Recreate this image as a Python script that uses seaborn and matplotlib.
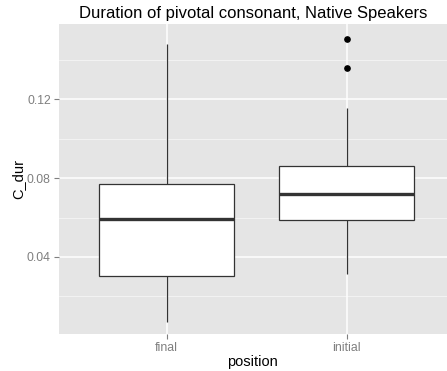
import numpy as np
import pandas as pd
import matplotlib
matplotlib.use("Agg")
import matplotlib.pyplot as plt
import seaborn as sns

# ---- data ----
categories = ["final", "initial"]
lower_whisker = [0.0072, 0.0315]
q1 = [0.0302, 0.0587]
median = [0.0592, 0.0721]
q3 = [0.0771, 0.0859]
upper_whisker = [0.1477, 0.1153]
outliers = [[], [0.1359, 0.1504]]

y_ticks = [0.04, 0.08, 0.12]
y_tick_labels = ["0.04", "0.08", "0.12"]
minor_ticks = [0.02, 0.06, 0.10, 0.14]

# Build samples whose quartiles reproduce the summary statistics
rows = []
for i, cat in enumerate(categories):
    if outliers[i]:
        vals = ([lower_whisker[i]] + [q1[i]] * 3 + [median[i]] * 3 + [q3[i]] * 3
                + [upper_whisker[i]] + outliers[i])
    else:
        vals = [lower_whisker[i], q1[i], median[i], q3[i], upper_whisker[i]]
    for v in vals:
        rows.append({"position": cat, "C_dur": v})
df = pd.DataFrame(rows)

sns.set_style("white")
plt.rcParams["font.family"] = ["Liberation Sans", "DejaVu Sans"]

fig = plt.figure(figsize=(4.47, 3.71), dpi=100)
ax = fig.add_axes([58.5 / 447, 1 - 334 / 371, 1 - 58.5 / 447, (334 - 24) / 371])
ax.set_facecolor("#E5E5E5")

edge = "#333333"
sns.boxplot(
    data=df, x="position", y="C_dur", order=categories, ax=ax,
    width=0.75, whis=1.6, showcaps=False,
    boxprops=dict(facecolor="white", edgecolor=edge, linewidth=0.9),
    whiskerprops=dict(color=edge, linewidth=0.9),
    medianprops=dict(color=edge, linewidth=2.4),
    flierprops=dict(marker="o", markerfacecolor="black", markeredgecolor="black",
                    markersize=3.8),
    zorder=3,
)

ax.set_xlim(-0.601, 1.557)
ax.set_ylim(0.001, 0.158)
ax.set_yticks(y_ticks)
ax.set_yticklabels(y_tick_labels)
ax.set_yticks(minor_ticks, minor=True)

ax.grid(False)
for y in minor_ticks:
    ax.axhline(y, color="#F2F2F2", linewidth=0.8, zorder=0)
for y in y_ticks:
    ax.axhline(y, color="white", linewidth=1.1, zorder=0)
for x in range(len(categories)):
    ax.axvline(x, color="white", linewidth=1.1, zorder=0)

for s in ax.spines.values():
    s.set_visible(False)

ax.tick_params(axis="both", which="major", length=3.5, width=0.8, color="#7F7F7F",
               labelcolor="#7F7F7F", labelsize=8.8, pad=2, left=True, bottom=True)
ax.tick_params(axis="y", which="minor", length=0)

ax.set_xlabel("position", fontsize=10.5, color="black", labelpad=1)
ax.set_ylabel("C_dur", fontsize=10.5, color="black", labelpad=1)
ax.set_title("Duration of pivotal consonant, Native Speakers", fontsize=12,
             color="black", pad=4)

fig.savefig("out.png", dpi=100)
